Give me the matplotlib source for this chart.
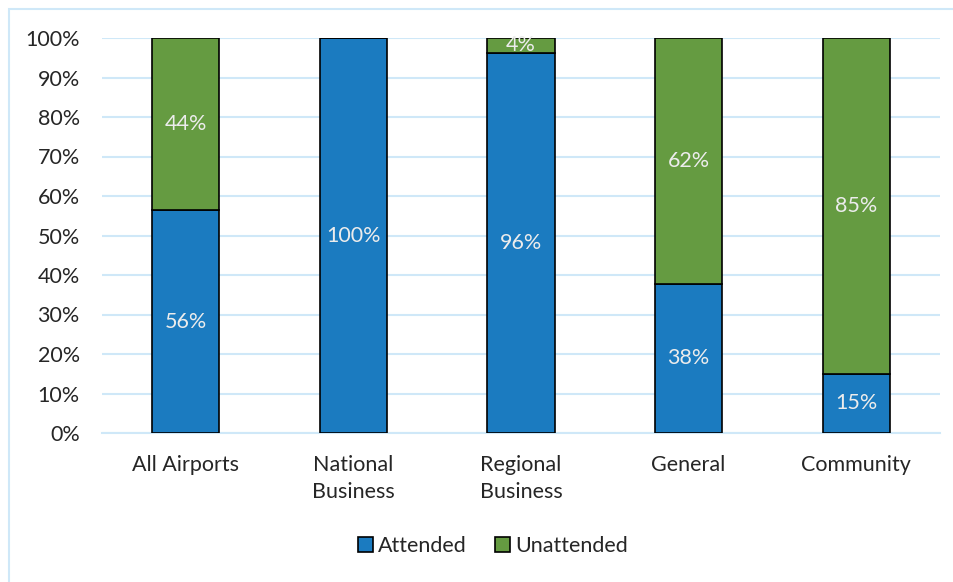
import matplotlib.pyplot as plt
from matplotlib.patches import Rectangle
import numpy as np

categories = ["All Airports", "National\nBusiness", "Regional\nBusiness", "General", "Community"]
attended = [56.4, 100.0, 96.3, 37.8, 15.0]
unattended = [43.6, 0.0, 3.7, 62.2, 85.0]
yticks = [0, 10, 20, 30, 40, 50, 60, 70, 80, 90, 100]

blue = "#1b7bc0"
green = "#659b41"
grid_col = "#cfe8f8"
text_col = "#262626"
fs = 15.5

plt.rcParams["font.family"] = ["Lato", "DejaVu Sans"]

fig = plt.figure(figsize=(9.54, 5.82), dpi=100)
ax = fig.add_axes([102 / 954, 1 - 433 / 582, (940 - 102) / 954, (433 - 38) / 582])

# light blue chart-area border (left and top only visible)
fig.patches.append(Rectangle((9 / 954, -0.1), 1.2, 1.1 - 9 / 582,
                             transform=fig.transFigure, fill=False,
                             edgecolor=grid_col, linewidth=1.5))

x = np.arange(len(categories))
w = 0.40
b1 = ax.bar(x, attended, w, color=blue, edgecolor="black", linewidth=1.2,
            label="Attended", zorder=3)
b2 = ax.bar(x, unattended, w, bottom=attended, color=green, edgecolor="black",
            linewidth=1.2, label="Unattended", zorder=3)

for i in range(len(categories)):
    ax.text(x[i], attended[i] / 2, f"{round(attended[i])}%", ha="center",
            va="center", color="#ececec", fontsize=fs, zorder=4)
    if unattended[i] > 0:
        ax.text(x[i], attended[i] + unattended[i] / 2, f"{round(unattended[i])}%",
                ha="center", va="center", color="#ececec", fontsize=fs, zorder=4)

ax.set_xlim(-0.5, len(categories) - 0.5)
ax.set_ylim(0, 100)
ax.set_yticks(yticks)
ax.set_yticklabels([f"{t}%" for t in yticks])
ax.yaxis.grid(True, color=grid_col, linewidth=1.5, zorder=0)
ax.set_axisbelow(True)
for s in ["top", "right", "left"]:
    ax.spines[s].set_visible(False)
ax.spines["bottom"].set_color(grid_col)
ax.spines["bottom"].set_linewidth(1.5)
ax.tick_params(axis="both", length=0, labelsize=fs, colors=text_col)
ax.tick_params(axis="y", pad=16)
ax.tick_params(axis="x", pad=16)
ax.set_xticks(x)
ax.set_xticklabels(categories, linespacing=1.45)

leg = fig.legend(handles=[b1, b2], loc="center", bbox_to_anchor=(493 / 954, 1 - 546 / 582),
                 ncol=2, frameon=False, fontsize=fs, handlelength=0.7,
                 handleheight=0.7, handletextpad=0.25, columnspacing=1.3)
for t in leg.get_texts():
    t.set_color(text_col)

fig.savefig("out.png", dpi=100)
